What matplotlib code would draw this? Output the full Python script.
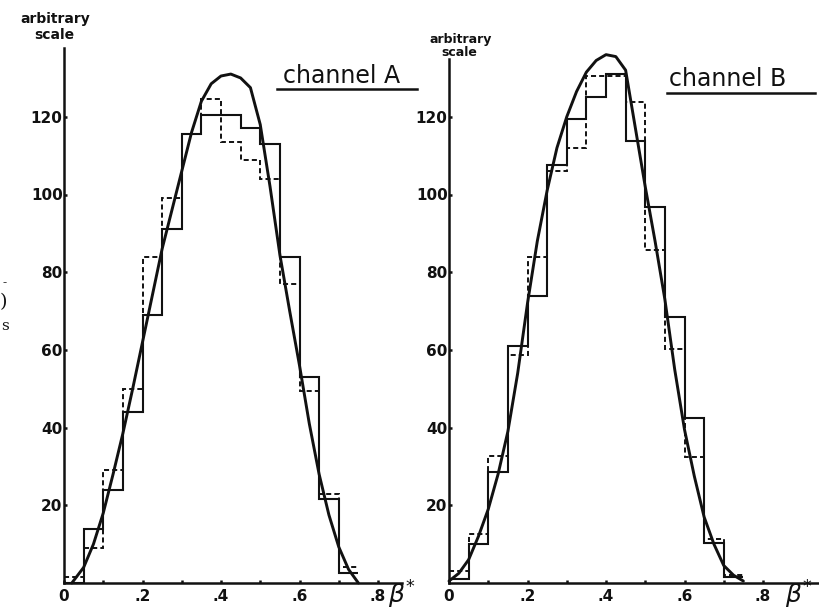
import matplotlib
matplotlib.use('Agg')
import matplotlib.pyplot as plt
from matplotlib.ticker import FixedLocator

# bin edges of the beta* histograms
bin_edges = [0.0, 0.05, 0.10, 0.15, 0.20, 0.25, 0.30, 0.35, 0.40,
             0.45, 0.50, 0.55, 0.60, 0.65, 0.70, 0.75]

# channel A
a_solid = [0, 14, 24, 44, 69, 91, 115.5, 120.5, 120.5, 117, 113, 84, 53, 21.5, 2.6]
a_dashed = [1.5, 9, 29, 50, 84, 99, 115.5, 124.5, 113.5, 109, 104, 77, 49.5, 23, 4]
a_curve_x = [0.02, 0.05, 0.075, 0.1, 0.125, 0.15, 0.175, 0.2, 0.225, 0.25,
             0.275, 0.3, 0.325, 0.35, 0.375, 0.4, 0.425, 0.45, 0.475, 0.5,
             0.525, 0.55, 0.575, 0.6, 0.625, 0.65, 0.675, 0.7, 0.725, 0.75]
a_curve_y = [0, 4, 10, 18, 28, 38.5, 50, 62, 74, 86,
             96, 106, 116, 124, 128.5, 130.5, 131, 130, 127.5, 118,
             102, 84.5, 70, 56, 41, 28, 17.5, 9.3, 3.5, 0]

# channel B
b_solid = [1, 10, 28.6, 61, 74, 107.5, 119.5, 125, 131, 113.7, 96.7, 68.5, 42.5, 10.3, 1.5]
b_dashed = [3.2, 12.6, 32.8, 58.8, 84, 106, 112, 130.6, 130.6, 123.7, 85.6, 60.3, 32.5, 11.4, 2]
b_curve_x = [0.0, 0.025, 0.05, 0.075, 0.1, 0.125, 0.15, 0.175, 0.2, 0.225,
             0.25, 0.275, 0.3, 0.325, 0.35, 0.375, 0.4, 0.425, 0.45, 0.475,
             0.5, 0.525, 0.55, 0.575, 0.6, 0.625, 0.65, 0.675, 0.7, 0.725, 0.75]
b_curve_y = [0.5, 2.5, 6, 12, 19, 28, 39, 54, 72, 88,
             101, 112, 120, 126.5, 131.5, 134.5, 136, 135.5, 132, 117,
             102, 88, 73, 55, 39.5, 27.5, 17, 10, 4.5, 2, 0.5]

x_ticks = [0, 0.2, 0.4, 0.6, 0.8]
x_tick_labels = ['0', '.2', '.4', '.6', '.8']
x_minor = [0.1, 0.3, 0.5, 0.7]
y_ticks = [20, 40, 60, 80, 100, 120]
y_tick_labels = ['20', '40', '60', '80', '100', '120']

INK = '#111111'
W, H = 819, 613


def px_axes(fig, left, bottom, width, height):
    """Add axes positioned in pixel units (bottom measured from the top)."""
    return fig.add_axes([left / W, (H - bottom) / H, width / W, height / H])


def draw_panel(ax, solid, dashed, cx, cy, xmax, ymax):
    ax.stairs(solid, bin_edges, color=INK, lw=1.5, baseline=None)
    ax.stairs(dashed, bin_edges, color=INK, lw=1.4, linestyle=(0, (2.6, 1.6)),
              baseline=None)
    ax.plot(cx, cy, color=INK, lw=2.1, clip_on=False, solid_capstyle='round')

    ax.set_xlim(0, xmax)
    ax.set_ylim(0, ymax)
    for side in ('top', 'right'):
        ax.spines[side].set_visible(False)
    for side in ('left', 'bottom'):
        ax.spines[side].set_linewidth(1.8)
        ax.spines[side].set_color(INK)

    ax.set_xticks(x_ticks)
    ax.set_xticklabels(x_tick_labels)
    ax.xaxis.set_minor_locator(FixedLocator(x_minor))
    ax.set_yticks(y_ticks)
    ax.set_yticklabels(y_tick_labels)
    ax.tick_params(which='both', direction='in', length=2.5, width=1.8,
                   color=INK, labelsize=11, labelcolor=INK)
    ax.tick_params(axis='y', pad=1)
    ax.tick_params(axis='x', pad=4)
    for lab in ax.get_xticklabels() + ax.get_yticklabels():
        lab.set_fontweight('bold')
    ax.patch.set_alpha(0)


def main():
    fig = plt.figure(figsize=(W / 100, H / 100), dpi=100)

    # x=0 at px 64 / 449, 0.2 per 78.5 px; y=0 at px 583, 20 per 77.7 px
    sx = 392.5
    sy = 3.885
    ax_a = px_axes(fig, 64, 583, 0.86 * sx, 137.7 * sy)
    draw_panel(ax_a, a_solid, a_dashed, a_curve_x, a_curve_y, 0.86, 137.7)

    ax_b = px_axes(fig, 449, 583, 0.943 * sx, 135 * sy)
    draw_panel(ax_b, b_solid, b_dashed, b_curve_x, b_curve_y, 0.943, 135)

    def ftext(x, y, s, **kw):
        fig.text(x / W, 1 - y / H, s, color=INK, **kw)

    # axis captions
    ftext(55, 19, 'arbitrary', ha='center', va='center', fontsize=10, fontweight='bold')
    ftext(54, 35, 'scale', ha='center', va='center', fontsize=10, fontweight='bold')
    ftext(461, 39, 'arbitrary', ha='center', va='center', fontsize=9, fontweight='bold')
    ftext(459, 53, 'scale', ha='center', va='center', fontsize=9, fontweight='bold')

    # channel titles with underline
    ftext(283, 83, 'channel A', ha='left', va='baseline', fontsize=17)
    ftext(669, 86, 'channel B', ha='left', va='baseline', fontsize=17)
    for x0, x1, y in ((277, 417, 89), (667, 815, 93)):
        fig.add_artist(plt.Line2D([x0 / W, x1 / W], [1 - y / H, 1 - y / H],
                                  color=INK, lw=1.8))

    # beta* axis labels
    ftext(388, 595, r'$\beta^{*}$', ha='left', va='center', fontsize=18)
    ftext(785, 595, r'$\beta^{*}$', ha='left', va='center', fontsize=18)

    # bits of the neighbouring page at the left edge
    ftext(5, 283, '-', ha='center', va='center', fontsize=9, family='serif')
    ftext(3, 302, ')', ha='center', va='center', fontsize=14, family='serif')
    ftext(5, 326, 's', ha='center', va='center', fontsize=11, family='serif')

    fig.savefig('out.png', dpi=100, facecolor='white')


if __name__ == '__main__':
    main()
